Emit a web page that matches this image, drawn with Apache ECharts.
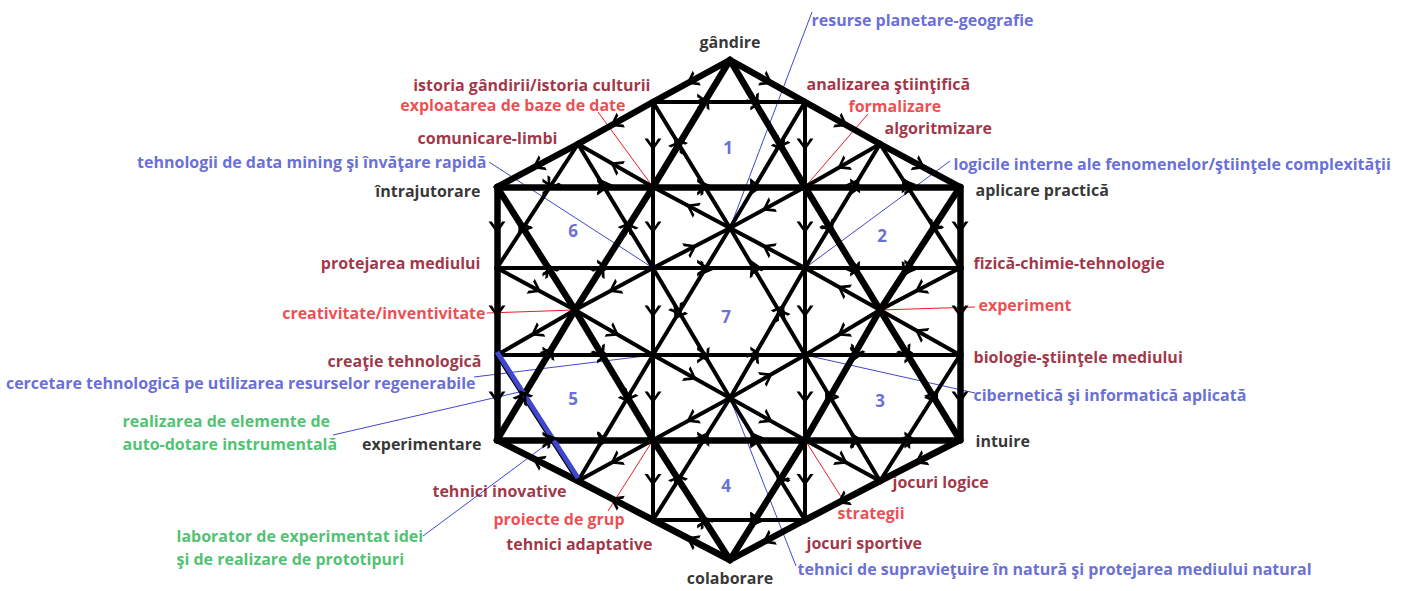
<!DOCTYPE html>
<html><head><meta charset="utf-8">
<script src="https://cdn.jsdelivr.net/npm/echarts/dist/echarts.min.js"></script>
<style>html,body{margin:0;padding:0;background:#fff}#chart{width:1403px;height:591px}</style>
</head><body><div id="chart"></div>
<script>
// ---- DATA ----
const nodeNames = ['T','UR','LR','B','LL','UL','E1','E2','E3','E4','E5','E6','E7','E8','A1','A2','L268','M1','M2','R268','L355','N1','N2','R355','D1','D2','CU','CD','CL','CR'];
const nodeX = [730,960,960,730,497,497,653,805,578,880,578,880,653,805,653,805,497,653,805,960,497,653,805,960,653,805,730,730,575,880];
const nodeY = [60,187,440,560,440,187,102,102,144,144,481,481,520,520,187,187,268,268,268,268,355,355,355,355,440,440,228,398,310,310];
// edges written "from>to" in the direction of their arrows
const thickEdges = ['T>E1','E1>E3','E3>UL','T>E2','E2>E4','E4>UR','UR>R268','R268>R355','R355>LR','LR>E6','E6>E8','E8>B','B>E7','E7>E5','E5>LL','UL>L268','L268>L355','L355>LL',
  'A1>T','CL>A1','LL>CL','T>A2','A2>CR','CR>LR','CL>UL','CL>D1','B>D1','UR>CR','CR>D2','D2>B',
  'UL>A1','A1>A2','A2>UR','LL>D1','D1>D2','D2>LR'];
const mediumEdges = ['E1>E2','E7>E8','L268>M1','M1>M2','M2>R268','L355>N1','N1>N2','N2>R355',
  'E1>A1','A1>M1','M1>N1','N1>D1','D1>E7','E2>A2','A2>M2','M2>N2','N2>D2','D2>E8',
  'CU>E1','E2>CU','CU>A1','A2>CU','M1>CU','M2>CU','CU>N1','N2>CU',
  'M1>CD','CD>M2','N1>CD','CD>N2','CD>D1','CD>D2','E7>CD','E8>CD',
  'L268>CL','M1>CL','CL>L355','CL>N1','CR>M2','R268>CR','CR>N2','R355>CR',
  'A1>E3','E3>L268','M1>E3','E4>A2','M2>E4','R268>E4','D1>E5','N1>E5','E5>L355','D2>E6','E6>N2','E6>R355'];
const labelTexts = ['gândire','resurse planetare-geografie','istoria gândirii/istoria culturii','exploatarea de baze de date','analizarea ştiinţifică','formalizare','comunicare-limbi','algoritmizare','tehnologii de data mining şi învăţare rapidă','logicile interne ale fenomenelor/ştiinţele complexităţii','întrajutorare','aplicare practică','protejarea mediului','fizică-chimie-tehnologie','creativitate/inventivitate','experiment','creaţie tehnologică','biologie-ştiinţele mediului','cercetare tehnologică pe utilizarea resurselor regenerabile','cibernetică şi informatică aplicată','realizarea de elemente de','auto-dotare instrumentală','experimentare','intuire','tehnici inovative','jocuri logice','strategii','proiecte de grup','laborator de experimentat idei','şi de realizare de prototipuri','tehnici adaptative','jocuri sportive','colaborare','tehnici de supravieţuire în natură şi protejarea mediului natural'];
const labelKinds = ['axis','blue','dark','red','dark','red','dark','dark','blue','blue','axis','axis','dark','dark','red','red','dark','dark','blue','blue','green','green','axis','axis','dark','dark','red','red','green','green','dark','dark','axis','blue'];
const regionNumbers = ['1','2','3','4','5','6','7'];

// ---- LAYOUT (positions & styles) ----
const labelLayout = [[730,42,'c'],[811,20,'l'],[651,85,'r'],[626,105,'r'],[806,84,'l'],[848,106,'l'],[558,138,'r'],[884,128,'l'],[487,162,'r'],[953,164,'l'],[481,191,'r'],[975,190,'l'],[481,263,'r'],[973,263,'l'],[486,313,'r'],[978,305,'l'],[482,361,'r'],[973,357,'l'],[476,383,'r'],[973,395,'l'],[122,421,'l'],[122,444,'l'],[482,444,'r'],[975,441,'l'],[567,491,'r'],[892,482,'l'],[837,513,'l'],[625,519,'r'],[176,536,'l'],[176,559,'l'],[653,544,'r'],[806,543,'l'],[730,578,'c'],[797,569,'l']];
const numberLayout = [[728,147],[882,235],[880,400],[726,485],[573,398],[573,230],[726,316]];
const leaderLayout = [['blue',[812,12],'CU'],['red',[598,112],'A1'],['red',[868,114],'A2'],['blue',[489,162],'M1'],['blue',[950,161],'M2'],
  ['red',[487,313],'CL'],['red',[975,307],'CR'],['blue',[474,377],'N1'],['blue',[975,393],'N2'],['blue',[333,435],[528,390]],
  ['blue',[423,536],[551,441]],['red',[608,511],'D1'],['red',[845,503],'D2'],['blue',[796,566],'CD']];
const colors = {axis:'#000000', blue:'#3f48cc', dark:'#880015', red:'#ed1c24', green:'#22b14c'};
const FONT = 'Open Sans';

const P = {}; nodeNames.forEach((n,i)=>P[n]=[nodeX[i],nodeY[i]]);
const pt = v => typeof v === 'string' ? P[v] : v;
const parse = e => e.split('>').map(n=>P[n]);

const arrows = [];
thickEdges.concat(mediumEdges).forEach(e=>{
  const [p,q] = parse(e); const dx=q[0]-p[0], dy=q[1]-p[1];
  const len = Math.hypot(dx,dy);
  const ts = len>120 ? [0.33,0.68] : [0.5];
  const rot = Math.atan2(-dy,dx)*180/Math.PI + 90;
  ts.forEach(t=>arrows.push({value:[p[0]+dx*t, p[1]+dy*t], symbolRotate: rot}));
});

const labelData = labelTexts.map((t,i)=>{
  const [x,y,a] = labelLayout[i];
  return {value:[x,y], label:{formatter:t, color:colors[labelKinds[i]],
    position: a==='l'?'right':(a==='r'?'left':'inside'), distance:0}};
});
const numberData = regionNumbers.map((t,i)=>({value:numberLayout[i], label:{formatter:t}}));

const leaderByColor = {};
leaderLayout.forEach(([c,a,b])=>{(leaderByColor[c]=leaderByColor[c]||[]).push({coords:[pt(a),pt(b)]});});

const series = [];
Object.keys(leaderByColor).forEach(c=>series.push({type:'lines',coordinateSystem:'cartesian2d',silent:true,z:1,
  data:leaderByColor[c], lineStyle:{color:colors[c],width:1,opacity:1}}));
series.push({type:'lines',coordinateSystem:'cartesian2d',silent:true,z:2,data:mediumEdges.map(e=>({coords:parse(e)})),
  lineStyle:{color:'#000',width:4,opacity:1,cap:'round'}});
series.push({type:'lines',coordinateSystem:'cartesian2d',silent:true,z:3,data:thickEdges.map(e=>({coords:parse(e)})),
  lineStyle:{color:'#000',width:6.5,opacity:1,cap:'round',join:'round'}});
series.push({type:'lines',coordinateSystem:'cartesian2d',silent:true,z:4,data:[{coords:[[497,352],[578,478]]}],
  lineStyle:{color:colors.blue,width:5,opacity:1}});
series.push({type:'scatter',silent:true,z:5,data:arrows,symbol:'path://M0,0 L4,0 L10,9 L16,0 L20,0 L10,14 Z',
  symbolSize:[17,12],itemStyle:{color:'#000',opacity:1}});
series.push({type:'scatter',silent:true,z:6,data:labelData,symbolSize:1,itemStyle:{color:'rgba(0,0,0,0)'},
  label:{show:true,fontFamily:FONT,fontWeight:'bold',fontSize:16,lineHeight:14}});
series.push({type:'scatter',silent:true,z:6,data:numberData,symbolSize:1,itemStyle:{color:'rgba(0,0,0,0)'},
  label:{show:true,position:'inside',fontFamily:FONT,fontWeight:'bold',fontSize:17,color:colors.blue}});

const chart = echarts.init(document.getElementById('chart'),null,{renderer:'svg'});
chart.setOption({
  animation:false, backgroundColor:'#fff',
  grid:{left:0,right:0,top:0,bottom:0},
  xAxis:{type:'value',min:0,max:1403,show:false},
  yAxis:{type:'value',min:0,max:591,inverse:true,show:false},
  series
});
</script></body></html>
